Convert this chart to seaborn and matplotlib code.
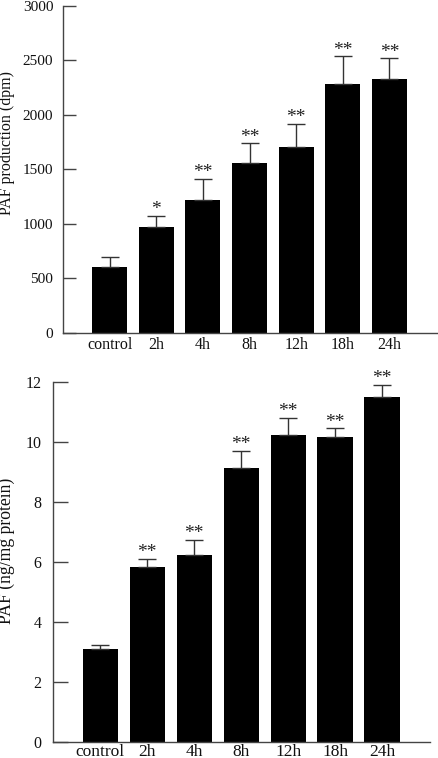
import numpy as np
import pandas as pd
import matplotlib
matplotlib.use("Agg")
import matplotlib.pyplot as plt
import seaborn as sns

# data
groups = ["control", "2h", "4h", "8h", "12h", "18h", "24h"]

dpm_mean = [606, 973, 1218, 1555, 1708, 2280, 2326]
dpm_err = [95, 101, 199, 184, 208, 257, 193]
dpm_sig = ["", "*", "**", "**", "**", "**", "**"]

ng_mean = [3.08, 5.83, 6.23, 9.14, 10.23, 10.16, 11.51]
ng_err = [0.14, 0.27, 0.52, 0.56, 0.57, 0.30, 0.40]
ng_sig = ["", "**", "**", "**", "**", "**", "**"]

sns.set_style("ticks")
plt.rcParams["font.family"] = ["Liberation Serif", "DejaVu Serif"]

fig = plt.figure(figsize=(4.38, 7.58), dpi=100)
ax1 = fig.add_axes([0.1438, 0.5607, 0.8539, 0.4314])
ax2 = fig.add_axes([0.1217, 0.0215, 0.8600, 0.4741])

panels = [
    (ax1, dpm_mean, dpm_err, dpm_sig, "PAF production (dpm)", (0, 3000), 500,
     11.5, 11.5, 11, 9.4, 7, 3, -0.128, 0.58),
    (ax2, ng_mean, ng_err, ng_sig, "PAF (ng/mg protein)", (0, 12), 2,
     12.7, 12.5, 11.5, 10.8, 8.4, 2, -0.102, 0.53),
]

for (ax, mean, err, sig, ylab, ylim, step, lab_fs, tick_fs, ytick_fs,
     tlen, tpad, xpad, lx, ly) in panels:
    df = pd.DataFrame({"group": groups, "value": mean})
    sns.barplot(data=df, x="group", y="value", color="black", saturation=1,
                width=0.75, ax=ax, edgecolor="none")
    ax.errorbar(np.arange(len(groups)), mean,
                yerr=[np.zeros(len(err)), err], fmt="none",
                ecolor="#333333", elinewidth=1.0, capsize=6.5, capthick=1.0)
    for i, s in enumerate(sig):
        if s:
            ax.annotate(s, (i, mean[i] + err[i]), xytext=(0, -1.5),
                        textcoords="offset points", ha="center", va="bottom",
                        fontsize=14, color="#222222")

    ax.set_xlim(-1.0, 7.02)
    ax.set_ylim(*ylim)
    ax.set_yticks(np.arange(ylim[0], ylim[1] + step / 2, step))
    ax.set_xlabel("")
    ax.set_ylabel(ylab, fontsize=lab_fs, color="#111111")
    ax.yaxis.set_label_coords(lx, ly)

    sns.despine(ax=ax)
    for sp in ["left", "bottom"]:
        ax.spines[sp].set_color("#444444")
        ax.spines[sp].set_linewidth(1.0)
    ax.tick_params(axis="y", direction="in", length=tlen, width=1.0,
                   color="#444444", pad=tpad, labelsize=ytick_fs,
                   labelcolor="#111111")
    ax.tick_params(axis="x", length=0, pad=xpad, labelsize=tick_fs,
                   labelcolor="#111111")
    ax.grid(False)

fig.savefig("out.png", dpi=100)
